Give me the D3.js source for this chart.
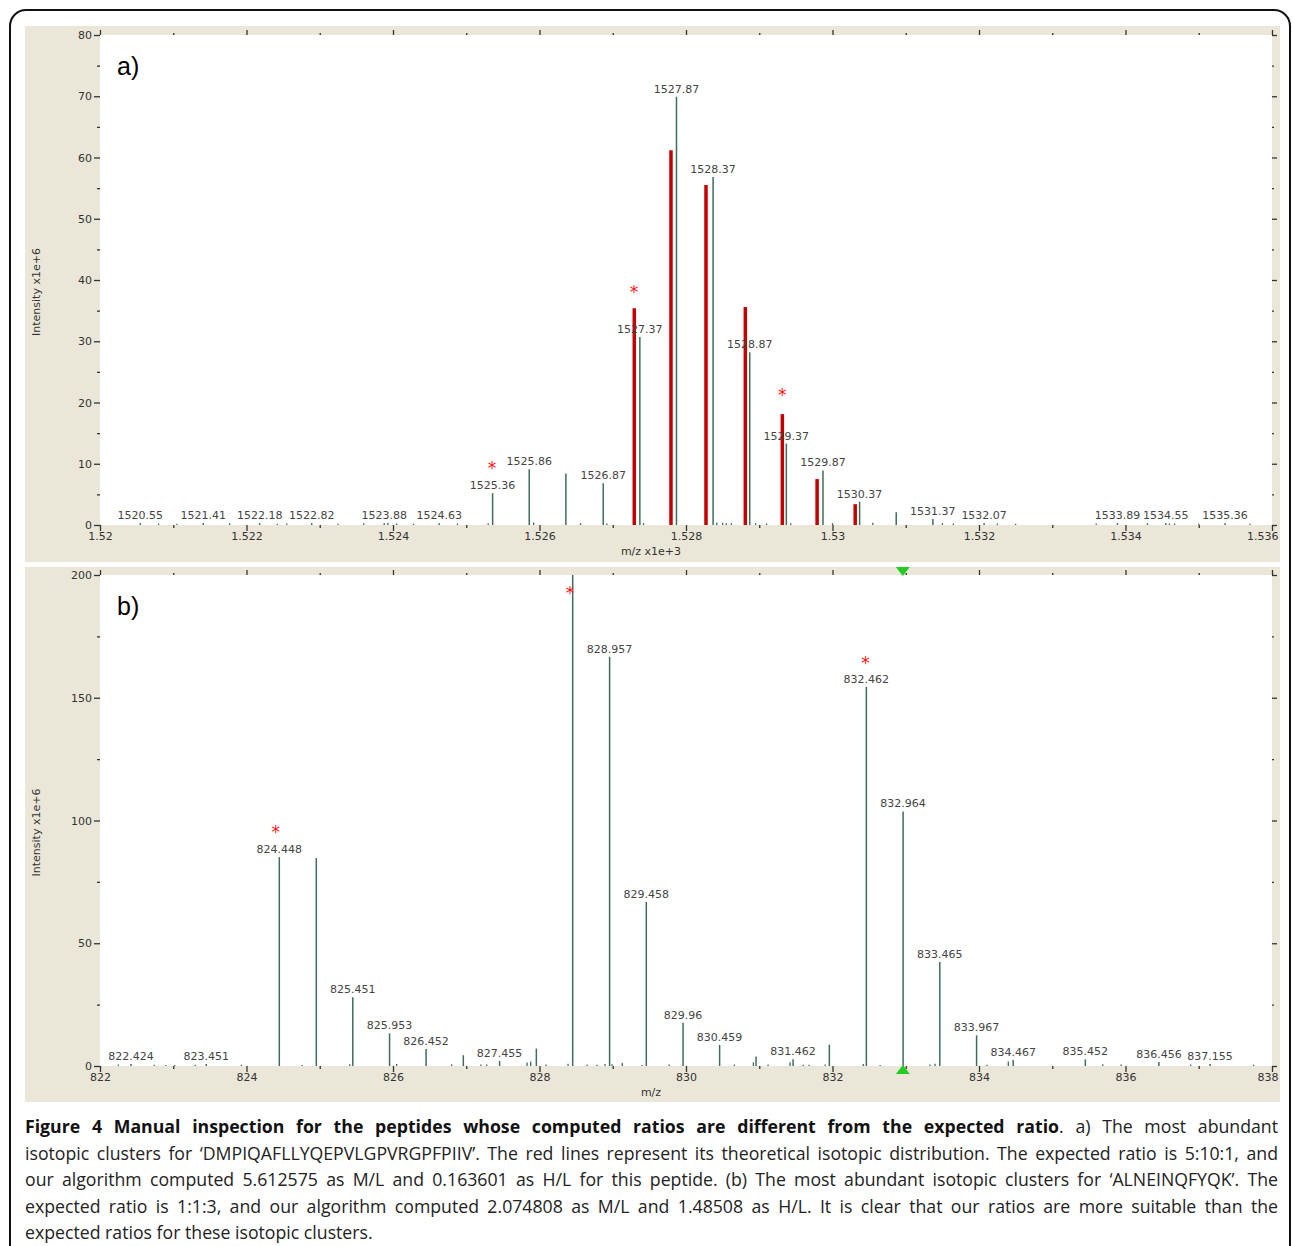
<!DOCTYPE html>
<html>
<head>
<meta charset="utf-8">
<script src="https://cdn.jsdelivr.net/npm/d3@7"></script>
<style>
    body { margin: 0; background: #fff; }
    #fig { position: relative; width: 1293px; height: 1246px; overflow: hidden; }
    #fig svg { position: absolute; left: 0; top: 0; }
    #caption { position: absolute; left: 25px; top: 1113px; width: 1253px;
        font-family: "Open Sans", sans-serif; font-size: 17.7px; line-height: 26.6px; color: #222; }
    #caption div { text-align: justify; text-align-last: justify; }
    #caption div.last { text-align-last: left; }
    #caption b { color: #111; }
</style>
</head>
<body>
<div id="fig"></div>
<script>

// ---- panel a data (m/z, intensity x1e+6, label) ----
var peaksA = [
    [1520.55, 0.3, "1520.55"], [1521.41, 0.3, "1521.41"], [1522.18, 0.3, "1522.18"],
    [1522.89, 0.3, "1522.82"], [1523.88, 0.3, "1523.88"], [1524.63, 0.3, "1524.63"],
    [1525.36, 5.2, "1525.36"], [1525.86, 9.1, "1525.86"], [1526.36, 8.4, ""],
    [1526.87, 6.8, "1526.87"], [1527.37, 30.7, "1527.37"], [1527.87, 69.9, "1527.87"],
    [1528.37, 56.8, "1528.37"], [1528.87, 28.2, "1528.87"], [1529.37, 13.3, "1529.37"],
    [1529.87, 8.9, "1529.87"], [1530.37, 3.8, "1530.37"], [1530.87, 2.1, ""],
    [1531.37, 1.0, "1531.37"], [1532.07, 0.3, "1532.07"], [1533.89, 0.3, "1533.89"],
    [1534.55, 0.3, "1534.55"], [1535.36, 0.3, "1535.36"]
];
var noiseA = [
    [1520.8, 0.25], [1521.05, 0.2], [1521.77, 0.3], [1522.42, 0.2], [1522.55, 0.25],
    [1523.25, 0.2], [1523.6, 0.3], [1523.93, 0.35], [1524.05, 0.25], [1524.28, 0.2],
    [1524.88, 0.25], [1525.3, 0.3], [1525.92, 0.4], [1526.56, 0.3], [1526.92, 0.25],
    [1527.42, 0.3], [1528.42, 0.4], [1528.5, 0.35], [1528.55, 0.3], [1528.62, 0.3],
    [1528.95, 0.3], [1529.1, 0.25], [1529.43, 0.3], [1530.0, 0.3], [1530.55, 0.35],
    [1531.5, 0.3], [1531.65, 0.25], [1532.25, 0.25], [1532.5, 0.2], [1533.6, 0.25],
    [1534.3, 0.3], [1534.6, 0.25], [1534.67, 0.25], [1535.0, 0.2], [1535.7, 0.2]
];
// theoretical isotopic distribution (red)
var theoryA = [
    [1527.294, 35.4], [1527.795, 61.2], [1528.273, 55.5], [1528.81, 35.6],
    [1529.315, 18.1], [1529.79, 7.5], [1530.31, 3.4]
];
var starsA = [[1525.35, 9.8], [1527.29, 38.6], [1529.315, 21.8]];
var yTicksA = [0, 10, 20, 30, 40, 50, 60, 70, 80];
var yMinorA = [5, 15, 25, 35, 45, 55, 65, 75];
var xTicksA = [1520, 1522, 1524, 1526, 1528, 1530, 1532, 1534, 1536];
var xMinorA = [1521, 1523, 1525, 1527, 1529, 1531, 1533, 1535];

// ---- panel b data ----
var peaksB = [
    [822.424, 0.8, "822.424"], [823.451, 0.8, "823.451"], [824.448, 85.1, "824.448"],
    [824.953, 84.7, ""], [825.451, 28.0, "825.451"], [825.953, 13.3, "825.953"],
    [826.452, 6.9, "826.452"], [826.96, 4.4, ""], [827.455, 2.0, "827.455"],
    [827.957, 7.1, ""], [828.453, 201, ""], [828.957, 166.7, "828.957"],
    [829.458, 66.8, "829.458"], [829.96, 17.6, "829.96"], [830.459, 8.6, "830.459"],
    [830.956, 3.9, ""], [831.462, 2.8, "831.462"], [831.957, 8.7, ""],
    [832.462, 154.5, "832.462"], [832.964, 103.7, "832.964"], [833.465, 42.4, "833.465"],
    [833.967, 12.5, "833.967"], [834.467, 2.4, "834.467"], [835.452, 2.7, "835.452"],
    [836.456, 1.6, "836.456"], [837.155, 0.8, "837.155"]
];
var noiseB = [
    [822.25, 0.6], [822.74, 0.5], [822.9, 0.4], [823.02, 0.4], [823.3, 0.5], [823.93, 0.5],
    [824.76, 0.4], [825.41, 0.7], [826.05, 0.8], [826.8, 0.7], [827.2, 0.6], [827.28, 0.6],
    [827.83, 1.4], [827.88, 1.8], [828.09, 0.6], [828.39, 0.9], [828.65, 0.6], [828.785, 0.5],
    [828.894, 0.8], [828.99, 0.7], [829.13, 1.2], [829.4, 0.4], [829.77, 0.6], [830.66, 0.6],
    [830.92, 1.5], [831.12, 0.6], [831.42, 1.5], [831.6, 0.5], [831.68, 0.5], [831.9, 0.6],
    [832.42, 0.8], [832.65, 0.4], [833.33, 0.6], [833.4, 0.9], [834.11, 0.5], [834.4, 1.8],
    [835.69, 0.7], [835.94, 0.6], [836.89, 0.6], [837.75, 0.5]
];
var starsB = [[824.40, 96.8], [828.416, 194], [832.45, 165.5]];
var markersB = [832.96];
var yTicksB = [0, 50, 100, 150, 200];
var yMinorB = [25, 75, 125, 175];
var xTicksB = [822, 824, 826, 828, 830, 832, 834, 836, 838];
var xMinorB = [823, 825, 827, 829, 831, 833, 835, 837];

var captionLines = [
    "<b>Figure 4 Manual inspection for the peptides whose computed ratios are different from the expected ratio</b>. a) The most abundant",
    "isotopic clusters for \u2018DMPIQAFLLYQEPVLGPVRGPFPIIV\u2019. The red lines represent its theoretical isotopic distribution. The expected ratio is 5:10:1, and",
    "our algorithm computed 5.612575 as M/L and 0.163601 as H/L for this peptide. (b) The most abundant isotopic clusters for \u2018ALNEINQFYQK\u2019. The",
    "expected ratio is 1:1:3, and our algorithm computed 2.074808 as M/L and 1.48508 as H/L. It is clear that our ratios are more suitable than the",
    "expected ratios for these isotopic clusters."
];

var peakColor = "#3e6e5a";
var beige = "#ebe7d8";
var tickFont = "11px 'DejaVu Sans', Verdana, sans-serif";

var svg = d3.select("#fig").append("svg")
    .attr("width", 1293)
    .attr("height", 1246);

// outer frame
svg.append("rect")
    .attr("x", 10).attr("y", 10)
    .attr("width", 1280).attr("height", 1300)
    .attr("rx", 16)
    .attr("fill", "none")
    .attr("stroke", "#111")
    .attr("stroke-width", 2);

function styleAxis(ax) {
    ax.select(".domain").remove();
    ax.selectAll("line").style("stroke", "#333").style("stroke-width", 1.3);
    ax.selectAll("text").style("fill", "#333").style("font", tickFont);
}

function d3Spectrum(value) {

    var x = d3.scaleLinear().domain(value.xDomain).range([100, 1272]);
    var y = d3.scaleLinear().domain(value.yDomain).range([value.plotBottom, value.plotTop]);

    var g = svg.append("g");

    g.append("rect")
        .attr("x", 25).attr("y", value.boxTop)
        .attr("width", 1255).attr("height", value.boxBottom - value.boxTop)
        .attr("fill", beige);

    g.append("rect")
        .attr("x", 100).attr("y", value.plotTop)
        .attr("width", 1172).attr("height", value.plotBottom - value.plotTop)
        .attr("fill", "#fff");

    // left axis
    styleAxis(g.append("g").attr("transform", "translate(100,0)")
        .call(d3.axisLeft(y).tickValues(value.yTicks).tickSize(6).tickPadding(2)));
    styleAxis(g.append("g").attr("transform", "translate(100,0)")
        .call(d3.axisLeft(y).tickValues(value.yMinor).tickSize(3).tickFormat("")));

    // right axis
    styleAxis(g.append("g").attr("transform", "translate(1272,0)")
        .call(d3.axisRight(y).tickValues(value.yTicks).tickSize(5).tickFormat("")));
    styleAxis(g.append("g").attr("transform", "translate(1272,0)")
        .call(d3.axisRight(y).tickValues(value.yMinor).tickSize(2).tickFormat("")));

    // top axis
    styleAxis(g.append("g").attr("transform", "translate(0," + value.plotTop + ")")
        .call(d3.axisTop(x).tickValues(value.xTicks).tickSize(5).tickFormat("")));
    styleAxis(g.append("g").attr("transform", "translate(0," + value.plotTop + ")")
        .call(d3.axisTop(x).tickValues(value.xMinor).tickSize(2).tickFormat("")));

    // bottom axis
    var xaxis = g.append("g").attr("transform", "translate(0," + value.plotBottom + ")")
        .call(d3.axisBottom(x).tickValues(value.xTicks).tickSize(6).tickPadding(1)
            .tickFormat(value.xFormat));
    styleAxis(xaxis);
    // last label is pulled inside the panel
    xaxis.selectAll("text")
        .filter(function (d) { return d == value.xDomain[1]; })
        .attr("text-anchor", "end")
        .attr("dx", 6);
    styleAxis(g.append("g").attr("transform", "translate(0," + value.plotBottom + ")")
        .call(d3.axisBottom(x).tickValues(value.xMinor).tickSize(3).tickFormat("")));

    // axis titles
    g.append("text")
        .attr("transform", "translate(40," + ((value.plotTop + value.plotBottom) / 2 + 12) + ") rotate(-90)")
        .attr("text-anchor", "middle")
        .style("font", tickFont)
        .style("fill", "#333")
        .text("Intensity x1e+6");

    g.append("text")
        .attr("x", 651)
        .attr("y", value.plotBottom + 30)
        .attr("text-anchor", "middle")
        .style("font", tickFont)
        .style("fill", "#333")
        .text(value.xTitle);

    // panel letter
    g.append("text")
        .attr("x", 117)
        .attr("y", value.plotTop + 40)
        .style("font", "25px 'Liberation Sans', Arial, sans-serif")
        .style("fill", "#000")
        .text(value.letter);

    // clip
    svg.append("clipPath").attr("id", "clip" + value.letter[0])
        .append("rect")
        .attr("x", 100).attr("y", value.plotTop)
        .attr("width", 1172).attr("height", value.plotBottom - value.plotTop);

    var plot = g.append("g").attr("clip-path", "url(#clip" + value.letter[0] + ")");

    // noise peaks
    plot.selectAll(".noise")
        .data(value.noise)
        .enter().append("line")
        .attr("x1", function (d) { return x(d[0]); })
        .attr("x2", function (d) { return x(d[0]); })
        .attr("y1", y(0))
        .attr("y2", function (d) { return y(d[1]); })
        .attr("stroke", peakColor)
        .attr("stroke-width", 1.3);

    // peaks
    plot.selectAll(".peak")
        .data(value.peaks)
        .enter().append("line")
        .attr("x1", function (d) { return x(d[0]); })
        .attr("x2", function (d) { return x(d[0]); })
        .attr("y1", y(0))
        .attr("y2", function (d) { return y(d[1]); })
        .attr("stroke", peakColor)
        .attr("stroke-width", 1.5);

    // peak labels
    g.selectAll(".plabel")
        .data(value.peaks.filter(function (d) { return d[2] != ""; }))
        .enter().append("text")
        .attr("x", function (d) { return x(d[0]); })
        .attr("y", function (d) { return y(d[1]) - 4; })
        .attr("text-anchor", "middle")
        .style("font", tickFont)
        .style("fill", "#444")
        .text(function (d) { return d[2]; });

    // theoretical distribution
    plot.selectAll(".theory")
        .data(value.theory)
        .enter().append("line")
        .attr("x1", function (d) { return x(d[0]); })
        .attr("x2", function (d) { return x(d[0]); })
        .attr("y1", y(0))
        .attr("y2", function (d) { return y(d[1]); })
        .attr("stroke", "#c40000")
        .attr("stroke-width", 3.5);

    // stars
    g.selectAll(".star")
        .data(value.stars)
        .enter().append("text")
        .attr("x", function (d) { return x(d[0]); })
        .attr("y", function (d) { return y(d[1]); })
        .attr("dy", "0.55em")
        .attr("text-anchor", "middle")
        .style("font", "17px 'DejaVu Sans', sans-serif")
        .style("fill", "#ff1010")
        .text("*");

    // green markers
    value.markers.forEach(function (m) {
        var mx = x(m);
        g.append("path")
            .attr("d", "M" + (mx - 7) + "," + (value.plotTop - 8) + "L" + (mx + 7) + "," + (value.plotTop - 8) +
                "L" + mx + "," + (value.plotTop + 1) + "Z")
            .attr("fill", "#22cc22");
        g.append("path")
            .attr("d", "M" + (mx - 7) + "," + (value.plotBottom + 8) + "L" + (mx + 7) + "," + (value.plotBottom + 8) +
                "L" + mx + "," + (value.plotBottom - 1) + "Z")
            .attr("fill", "#22cc22");
    });
}

d3Spectrum({
    letter: "a)",
    boxTop: 26, boxBottom: 562, plotTop: 35, plotBottom: 525,
    xDomain: [1520, 1536], yDomain: [0, 80],
    xTicks: xTicksA, xMinor: xMinorA, yTicks: yTicksA, yMinor: yMinorA,
    xFormat: function (d) { return String(+(d / 1000).toFixed(3)); },
    xTitle: "m/z x1e+3",
    peaks: peaksA, noise: noiseA, theory: theoryA, stars: starsA, markers: []
});

d3Spectrum({
    letter: "b)",
    boxTop: 567, boxBottom: 1102, plotTop: 575, plotBottom: 1066,
    xDomain: [822, 838], yDomain: [0, 200],
    xTicks: xTicksB, xMinor: xMinorB, yTicks: yTicksB, yMinor: yMinorB,
    xFormat: function (d) { return String(d); },
    xTitle: "m/z",
    peaks: peaksB, noise: noiseB, theory: [], stars: starsB, markers: markersB
});

// caption
var cap = d3.select("#fig").append("div").attr("id", "caption");
cap.selectAll("div")
    .data(captionLines)
    .enter().append("div")
    .attr("class", function (d, i) { return i == captionLines.length - 1 ? "last" : null; })
    .html(function (d) { return d; });

</script>
</body>
</html>
